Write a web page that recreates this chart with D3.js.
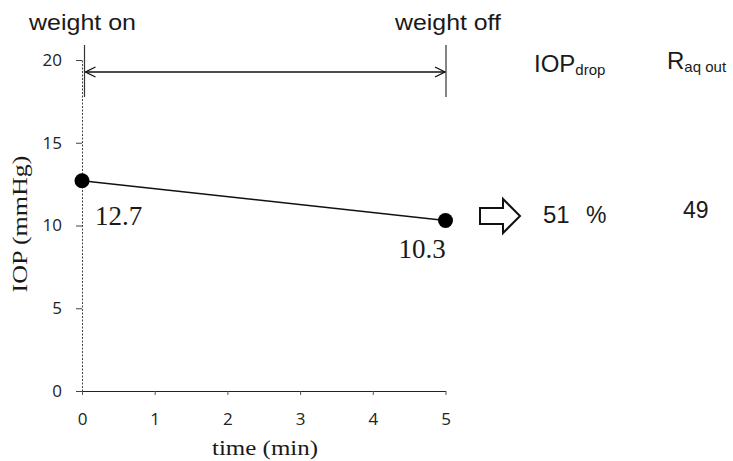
<!DOCTYPE html>
<html>
<head>
<meta charset="utf-8">
<script src="https://cdn.jsdelivr.net/npm/d3@7"></script>
<style>
  body { margin: 0; background: #fff; }
  svg { display: block; }
</style>
</head>
<body>
<div id="chart"></div>
<script>
// --- data ---
const times = [0, 5];
const iopValues = [12.7, 10.3];
const xTicks = [0, 1, 2, 3, 4, 5];
const yTicks = [0, 5, 10, 15, 20];
const iopDrop = 51;
const rAqOut = 49;

const W = 733, H = 461;

const svg = d3.select("#chart").append("svg")
  .attr("width", W)
  .attr("height", H);

const x = d3.scaleLinear().domain([0, 5]).range([82, 445.5]);
const y = d3.scaleLinear().domain([0, 20]).range([391, 60]);

const sans = "'Liberation Sans', Arial, sans-serif";
const serif = "'Liberation Serif', 'Times New Roman', serif";
const tickFont = "'Open Sans', Lato, sans-serif";

// text helper: the original lettering is quite wide, so fit it to a measured length
function label(px, py, str, font, size, len) {
  const t = svg.append("text")
    .attr("x", px).attr("y", py)
    .style("font-family", font).style("font-size", size + "px")
    .attr("fill", "#1a1a1a")
    .text(str);
  if (len) t.attr("textLength", len).attr("lengthAdjust", "spacingAndGlyphs");
  return t;
}

// --- axes ---
const xAxis = svg.append("g")
  .attr("transform", `translate(0,${y(0)})`)
  .call(d3.axisBottom(x).tickValues(xTicks).tickFormat(d3.format("d"))
    .tickSize(4).tickSizeOuter(0).tickPadding(18));
xAxis.select(".domain").attr("stroke", "#222").attr("stroke-width", 1.2);
xAxis.selectAll(".tick line").attr("stroke", "#555");
xAxis.selectAll("text")
  .style("font-family", tickFont).style("font-size", "17px").attr("fill", "#222");

const yAxis = svg.append("g")
  .attr("transform", `translate(${x(0)},0)`)
  .call(d3.axisLeft(y).tickValues(yTicks).tickFormat(d3.format("d"))
    .tickSize(6).tickSizeOuter(0).tickPadding(14));
yAxis.select(".domain").attr("stroke", "#444").attr("stroke-dasharray", "2,1.5");
yAxis.selectAll(".tick line").attr("stroke", "#444");
yAxis.selectAll("text")
  .style("font-family", tickFont).style("font-size", "17px").attr("fill", "#222");

// axis titles
label(212, 455, "time (min)", serif, 22, 106);

svg.append("text")
  .attr("transform", `translate(27,224) rotate(-90)`)
  .attr("text-anchor", "middle")
  .style("font-family", serif).style("font-size", "22px")
  .attr("textLength", 137).attr("lengthAdjust", "spacingAndGlyphs")
  .attr("fill", "#1a1a1a")
  .text("IOP (mmHg)");

// --- weight on / off markers ---
const defs = svg.append("defs");
defs.append("marker")
  .attr("id", "open-arrow")
  .attr("viewBox", "0 0 12 12")
  .attr("refX", 11).attr("refY", 6)
  .attr("markerWidth", 12).attr("markerHeight", 12)
  .attr("markerUnits", "userSpaceOnUse")
  .attr("orient", "auto-start-reverse")
  .append("path")
  .attr("d", "M1,1 L11,6 L1,11")
  .attr("fill", "none")
  .attr("stroke", "#111")
  .attr("stroke-width", 1.3);

const onX = x(times[0]) + 2.5, offX = x(times[1]) + 0.5;
[onX, offX].forEach(px => {
  svg.append("line")
    .attr("x1", px).attr("x2", px)
    .attr("y1", 45).attr("y2", 97)
    .attr("stroke", "#333").attr("stroke-width", 1.2);
});

svg.append("line")
  .attr("x1", onX + 1).attr("x2", offX - 1)
  .attr("y1", 72).attr("y2", 72)
  .attr("stroke", "#111").attr("stroke-width", 1.5)
  .attr("marker-start", "url(#open-arrow)")
  .attr("marker-end", "url(#open-arrow)");

label(29, 30, "weight on", sans, 22, 107);
label(395, 30, "weight off", sans, 22, 106);

// --- data line + points ---
const pts = times.map((t, i) => ({ t, v: iopValues[i] }));

svg.append("path")
  .datum(pts)
  .attr("fill", "none")
  .attr("stroke", "#111")
  .attr("stroke-width", 1.5)
  .attr("d", d3.line().x(d => x(d.t)).y(d => y(d.v)));

svg.selectAll("circle.pt")
  .data(pts)
  .join("circle")
  .attr("class", "pt")
  .attr("cx", d => x(d.t))
  .attr("cy", d => y(d.v))
  .attr("r", 7.5)
  .attr("fill", "#000");

// value labels
const labelOffsets = [{ dx: 13, dy: 44 }, { dx: -47, dy: 37 }];
svg.selectAll("text.val")
  .data(pts)
  .join("text")
  .attr("class", "val")
  .attr("x", (d, i) => x(d.t) + labelOffsets[i].dx)
  .attr("y", (d, i) => y(d.v) + labelOffsets[i].dy)
  .style("font-family", serif).style("font-size", "27px")
  .attr("fill", "#1a1a1a")
  .text(d => d.v.toFixed(1));

// --- result columns ---
const hdr1 = label(534, 72, "", sans, 24);
hdr1.append("tspan").text("IOP");
hdr1.append("tspan").style("font-size", "15px").attr("dy", 3).text("drop");

const hdr2 = label(667, 69, "", sans, 24);
hdr2.append("tspan").text("R");
hdr2.append("tspan").style("font-size", "15px").attr("dy", 3).text("aq out");

// hollow block arrow
svg.append("path")
  .attr("d", "M480,208 L503,208 L503,199 L520,216 L503,233 L503,224 L480,224 Z")
  .attr("fill", "#fff")
  .attr("stroke", "#111")
  .attr("stroke-width", 2);

label(543, 223, `${iopDrop}`, sans, 24);
label(586, 223, "%", sans, 23);
label(683, 218, `${rAqOut}`, sans, 23);
</script>
</body>
</html>
